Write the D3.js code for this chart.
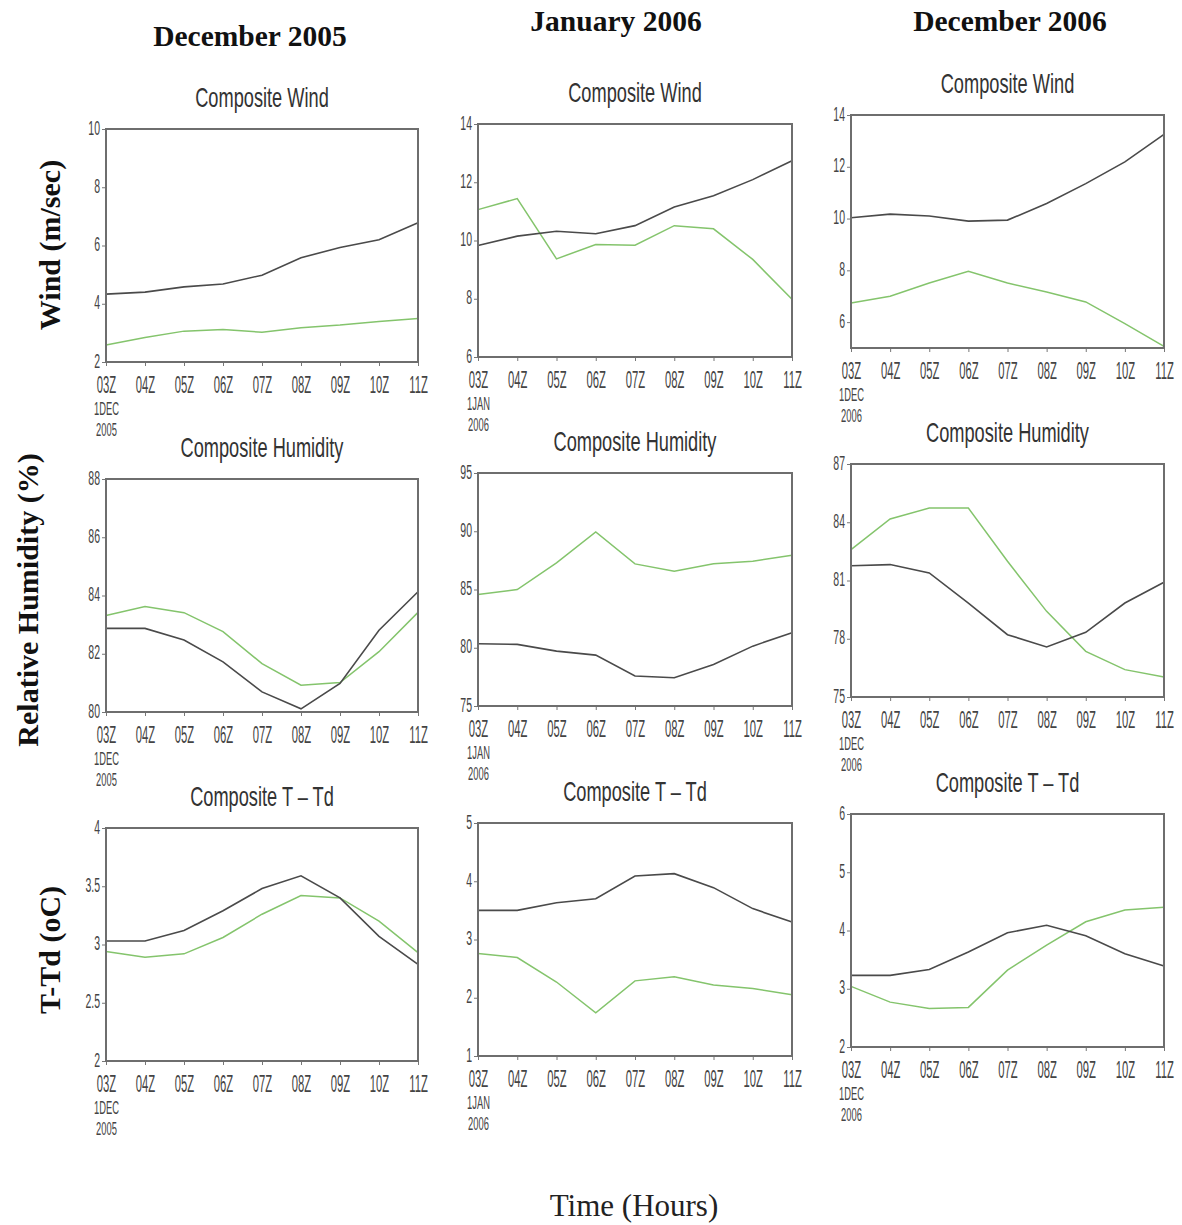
<!DOCTYPE html>
<html>
<head>
<meta charset="utf-8">
<script src="https://cdn.jsdelivr.net/npm/d3@7"></script>
<style>
  html, body { margin: 0; padding: 0; background: #fff; }
  svg { display: block; }
</style>
</head>
<body>
<svg id="chart" width="1182" height="1225"></svg>
<script>
// Hourly time steps shared by every panel
const hours = ["03Z", "04Z", "05Z", "06Z", "07Z", "08Z", "09Z", "10Z", "11Z"];
const startDates = [["1DEC", "2005"], ["1JAN", "2006"], ["1DEC", "2006"]];
const monthHeaders = ["December 2005", "January 2006", "December 2006"];
const panelTitles = ["Composite Wind", "Composite Humidity", "Composite T \u2013 Td"];
const rowLabels = ["Wind (m/sec)", "Relative Humidity (%)", "T-Td (oC)"];

// Composite wind (m/s)
const windDec05Black = [4.33, 4.4, 4.58, 4.68, 4.98, 5.58, 5.93, 6.2, 6.78];
const windDec05Green = [2.58, 2.84, 3.06, 3.12, 3.02, 3.18, 3.27, 3.39, 3.49];
const windJan06Black = [9.83, 10.15, 10.32, 10.23, 10.51, 11.15, 11.54, 12.09, 12.74];
const windJan06Green = [11.06, 11.44, 9.37, 9.86, 9.84, 10.51, 10.4, 9.35, 7.98];
const windDec06Black = [10.03, 10.17, 10.1, 9.9, 9.94, 10.58, 11.35, 12.19, 13.25];
const windDec06Green = [6.74, 7.0, 7.51, 7.96, 7.51, 7.16, 6.78, 5.94, 5.06];

// Composite relative humidity (%)
const rhDec05Black = [82.87, 82.87, 82.47, 81.72, 80.69, 80.11, 80.98, 82.81, 84.13];
const rhDec05Green = [83.31, 83.62, 83.41, 82.76, 81.66, 80.92, 81.01, 82.07, 83.42];
const rhJan06Black = [80.34, 80.29, 79.71, 79.37, 77.57, 77.43, 78.57, 80.14, 81.29];
const rhJan06Green = [84.57, 85.0, 87.29, 89.94, 87.2, 86.57, 87.2, 87.43, 87.94];
const rhDec06Black = [81.76, 81.82, 81.39, 79.84, 78.21, 77.58, 78.33, 79.84, 80.91];
const rhDec06Green = [82.59, 84.17, 84.73, 84.73, 81.99, 79.41, 77.35, 76.41, 76.03];

// Composite dew-point depression T - Td (oC)
const ttdDec05Black = [3.03, 3.03, 3.12, 3.29, 3.48, 3.59, 3.4, 3.07, 2.83];
const ttdDec05Green = [2.94, 2.89, 2.92, 3.06, 3.26, 3.42, 3.4, 3.2, 2.93];
const ttdJan06Black = [3.5, 3.5, 3.63, 3.7, 4.09, 4.13, 3.89, 3.53, 3.3];
const ttdJan06Green = [2.76, 2.69, 2.27, 1.74, 2.29, 2.36, 2.22, 2.16, 2.05];
const ttdDec06Black = [3.23, 3.23, 3.33, 3.63, 3.96, 4.09, 3.91, 3.6, 3.39];
const ttdDec06Green = [3.04, 2.77, 2.66, 2.68, 3.32, 3.75, 4.15, 4.35, 4.4];

// Y domains and tick values per panel (row, column)
const yDomains = [
  [[2, 10], [6, 14], [5, 14]],
  [[80, 88], [75, 95], [75, 87]],
  [[2, 4], [1, 5], [2, 6]]
];
const yTicks = [
  [[2, 4, 6, 8, 10], [6, 8, 10, 12, 14], [6, 8, 10, 12, 14]],
  [[80, 82, 84, 86, 88], [75, 80, 85, 90, 95], [75, 78, 81, 84, 87]],
  [[2, 2.5, 3, 3.5, 4], [1, 2, 3, 4, 5], [2, 3, 4, 5, 6]]
];
const seriesBlack = [
  [windDec05Black, windJan06Black, windDec06Black],
  [rhDec05Black, rhJan06Black, rhDec06Black],
  [ttdDec05Black, ttdJan06Black, ttdDec06Black]
];
const seriesGreen = [
  [windDec05Green, windJan06Green, windDec06Green],
  [rhDec05Green, rhJan06Green, rhDec06Green],
  [ttdDec05Green, ttdJan06Green, ttdDec06Green]
];

// ---- layout ----
const colX = [[106, 418], [478, 792], [851, 1164]];
const colTops = [[129, 479, 828], [124, 473, 823], [115, 464, 814]];
const plotH = 233;
const headerPos = [[250, 46], [616, 31], [1010, 31]];

const svg = d3.select("#chart");
const narrowFont = "'Liberation Sans', Arial, sans-serif";
const serifFont = "'Liberation Serif', 'Times New Roman', serif";

// Horizontally squeezed text, mimicking the condensed plotting font
function squeezed(g, x, y, str, size, sx, anchor, fill) {
  return g.append("text")
    .attr("transform", `translate(${x},${y}) scale(${sx},1)`)
    .attr("text-anchor", anchor || "middle")
    .attr("font-family", narrowFont)
    .attr("font-size", size)
    .attr("fill", fill || "#3c3c3c")
    .text(str);
}

// Month headers
monthHeaders.forEach((h, c) => {
  svg.append("text")
    .attr("x", headerPos[c][0]).attr("y", headerPos[c][1])
    .attr("text-anchor", "middle")
    .attr("font-family", serifFont)
    .attr("font-weight", "bold")
    .attr("font-size", 29.5)
    .attr("fill", "#111")
    .text(h);
});

// Row labels (rotated)
const rowLabelPos = [[60, 245], [38, 600], [60, 950]];
rowLabels.forEach((t, r) => {
  svg.append("text")
    .attr("transform", `translate(${rowLabelPos[r][0]},${rowLabelPos[r][1]}) rotate(-90)`)
    .attr("text-anchor", "middle")
    .attr("font-family", serifFont)
    .attr("font-weight", "bold")
    .attr("font-size", 30)
    .attr("fill", "#111")
    .text(t);
});

// Shared x-axis title
svg.append("text")
  .attr("x", 634).attr("y", 1216)
  .attr("text-anchor", "middle")
  .attr("font-family", serifFont)
  .attr("font-size", 31)
  .attr("fill", "#222")
  .text("Time (Hours)");

const line = (x, y) => d3.line().x((d, i) => x(hours[i])).y(d => y(d));

for (let r = 0; r < 3; r++) {
  for (let c = 0; c < 3; c++) {
    const left = colX[c][0], right = colX[c][1];
    const top = colTops[c][r], bottom = top + plotH;
    const x = d3.scalePoint().domain(hours).range([left, right]).padding(0);
    const y = d3.scaleLinear().domain(yDomains[r][c]).range([bottom, top]);
    const g = svg.append("g");

    // Panel title
    squeezed(g, (left + right) / 2, top - 22, panelTitles[r], 27, 0.675, "middle", "#333");

    // Data lines
    g.append("path").datum(seriesGreen[r][c])
      .attr("d", line(x, y))
      .attr("fill", "none").attr("stroke", "#84c46c").attr("stroke-width", 1.5);
    g.append("path").datum(seriesBlack[r][c])
      .attr("d", line(x, y))
      .attr("fill", "none").attr("stroke", "#4a4a4a").attr("stroke-width", 1.6);

    // Y axis
    const ya = g.append("g").attr("transform", `translate(${left},0)`)
      .call(d3.axisLeft(y).tickValues(yTicks[r][c]).tickSize(4).tickFormat(d3.format("")));
    ya.select(".domain").remove();
    ya.selectAll(".tick line").attr("stroke", "#777");
    ya.selectAll(".tick text").remove();
    ya.selectAll(".tick").each(function (d) {
      squeezed(d3.select(this), -6, 5, d3.format("")(d), 21, 0.5, "end", "#444");
    });

    // X axis with the start date under the first tick
    const xa = g.append("g").attr("transform", `translate(0,${bottom})`)
      .call(d3.axisBottom(x).tickSize(4));
    xa.select(".domain").remove();
    xa.selectAll(".tick line").attr("stroke", "#777");
    xa.selectAll(".tick text").remove();
    xa.selectAll(".tick").each(function (d, i) {
      const t = d3.select(this);
      squeezed(t, 0, 31, d, 23, 0.49, "middle", "#444");
      if (i === 0) {
        squeezed(t, 0, 53, startDates[c][0], 18, 0.52, "middle", "#444");
        squeezed(t, 0, 74, startDates[c][1], 18, 0.52, "middle", "#444");
      }
    });

    // Frame
    g.append("rect")
      .attr("x", left).attr("y", top)
      .attr("width", right - left).attr("height", bottom - top)
      .attr("fill", "none").attr("stroke", "#6e6e6e").attr("stroke-width", 2);
  }
}
</script>
</body>
</html>
